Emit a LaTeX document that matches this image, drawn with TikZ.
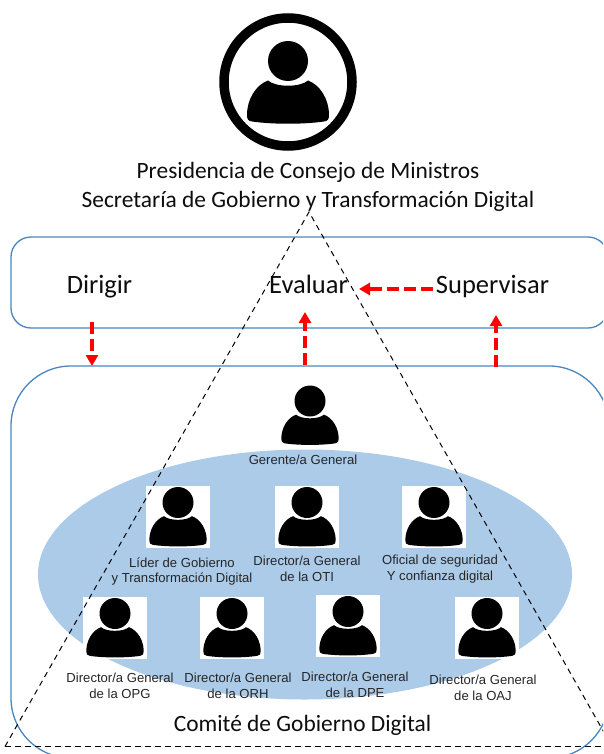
\documentclass[tikz,border=0pt]{standalone}
\usepackage{fontspec}
\setmainfont{Carlito}
\newfontfamily\labelfont{Liberation Sans}
\usetikzlibrary{arrows.meta}
\definecolor{frameblue}{HTML}{4A86C0}
\definecolor{ovalblue}{HTML}{ABCBE8}
\definecolor{arrowred}{HTML}{FF0000}
\tikzset{
  x=1pt,y=-1pt,
  frame/.style={draw=frameblue,line width=1.3pt},
  titletext/.style={font=\fontsize{23.4}{29}\selectfont,inner sep=0pt,align=center,text=black!95},
  bigtext/.style={font=\fontsize{26.5}{30}\selectfont,inner sep=0pt,anchor=base,text=black!95},
  smalltext/.style={font=\labelfont\fontsize{13.1}{15.7}\selectfont,inner sep=0pt,align=center,text=black!85},
  redarrow/.style={draw=arrowred,line width=4pt,dash pattern=on 12pt off 5pt,-{Triangle[length=11pt,width=12pt]}},
  tri/.style={draw=black,line width=1pt,dash pattern=on 5.5pt off 4.5pt},
  iconbox/.style={fill=white,draw=none},
  pics/person/.style n args={2}{code={
    \fill[black,scale=#1] (-20,19.5) .. controls (-12,26.5) and (12,26.5) .. (20,19.5)
      .. controls (32,24) and (41,38) .. (41,54)
      .. controls (41,58) and (40,60) .. (36,60.5)
      .. controls (15,63.5) and (-15,63.5) .. (-36,60.5)
      .. controls (-40,60) and (-41,58) .. (-41,54)
      .. controls (-41,38) and (-32,24) .. (-20,19.5) -- cycle;
    \fill[black] (0,0) circle (#2);
  }}
}
\begin{document}
\begin{tikzpicture}
\useasboundingbox (0,0) rectangle (603,754);
\clip (0,0) rectangle (603,754);
% frames
\draw[frame,rounded corners=20pt] (11,237) rectangle (608,328);
\draw[frame,rounded corners=60pt] (11,366) rectangle (609,758);
\fill[ovalblue] (305,574.5) ellipse [x radius=267,y radius=125];
% big icon
\draw[black,line width=9.5pt] (288,82) circle (64);
\pic at (288,61) {person={1}{20}};
% Gerente
\pic at (310,401) {person={0.7}{15.5}};
% white boxes and icons
\foreach \bx/\by/\nm in {146/486/a,275/486/b,402/486/c,83/597/d,200/597/e,316/595/f,455/597/g}{
  \fill[iconbox] (\bx,\by) rectangle ++(64,61.5);
  \pic at (\bx+32,\by+16.5) {person={0.7}{15.5}};
}
% texts
\node[titletext] (title) at (308,187) {Presidencia de Consejo de Ministros\\Secretaría de Gobierno y Transformación Digital};
\node[bigtext] (dirigir) at (99.5,293) {Dirigir};
\node[bigtext] (evaluar) at (308.5,293) {Evaluar};
\node[bigtext] (supervisar) at (492.5,293) {Supervisar};
\node[titletext] (comite) at (302.5,725) {Comité de Gobierno Digital};
\node[smalltext] (gerente) at (303,460) {Gerente/a General};
\node[smalltext] (lider) at (182,571.5) {Líder de Gobierno\\y Transformación Digital};
\node[smalltext] (oti) at (307,569) {Director/a General\\de la OTI};
\node[smalltext] (oficial) at (440,569) {Oficial de seguridad\\Y confianza digital};
\node[smalltext] (opg) at (120,686) {Director/a General\\de la OPG};
\node[smalltext] (orh) at (238,686) {Director/a General\\de la ORH};
\node[smalltext] (dpe) at (355,685) {Director/a General\\de la DPE};
\node[smalltext] (oaj) at (483,688) {Director/a General\\de la OAJ};
% triangle
\coordinate (apex) at (309,212);
\coordinate (bl) at (5,746.5);
\coordinate (br) at (612,746.5);
\draw[tri] (bl) -- (apex) -- (br);
\draw[tri] (bl) -- (br);
% red arrows
\coordinate (d1) at (92,322);
\coordinate (d2) at (92,366);
\coordinate (e1) at (305,365);
\coordinate (e2) at (305,312);
\coordinate (s1) at (496,367);
\coordinate (s2) at (496,315);
\coordinate (h1) at (433,289);
\coordinate (h2) at (359,289);
\draw[redarrow] (d1) -- (d2);
\draw[redarrow] (e1) -- (e2);
\draw[redarrow] (s1) -- (s2);
\draw[redarrow] (h1) -- (h2);
\end{tikzpicture}
\end{document}
